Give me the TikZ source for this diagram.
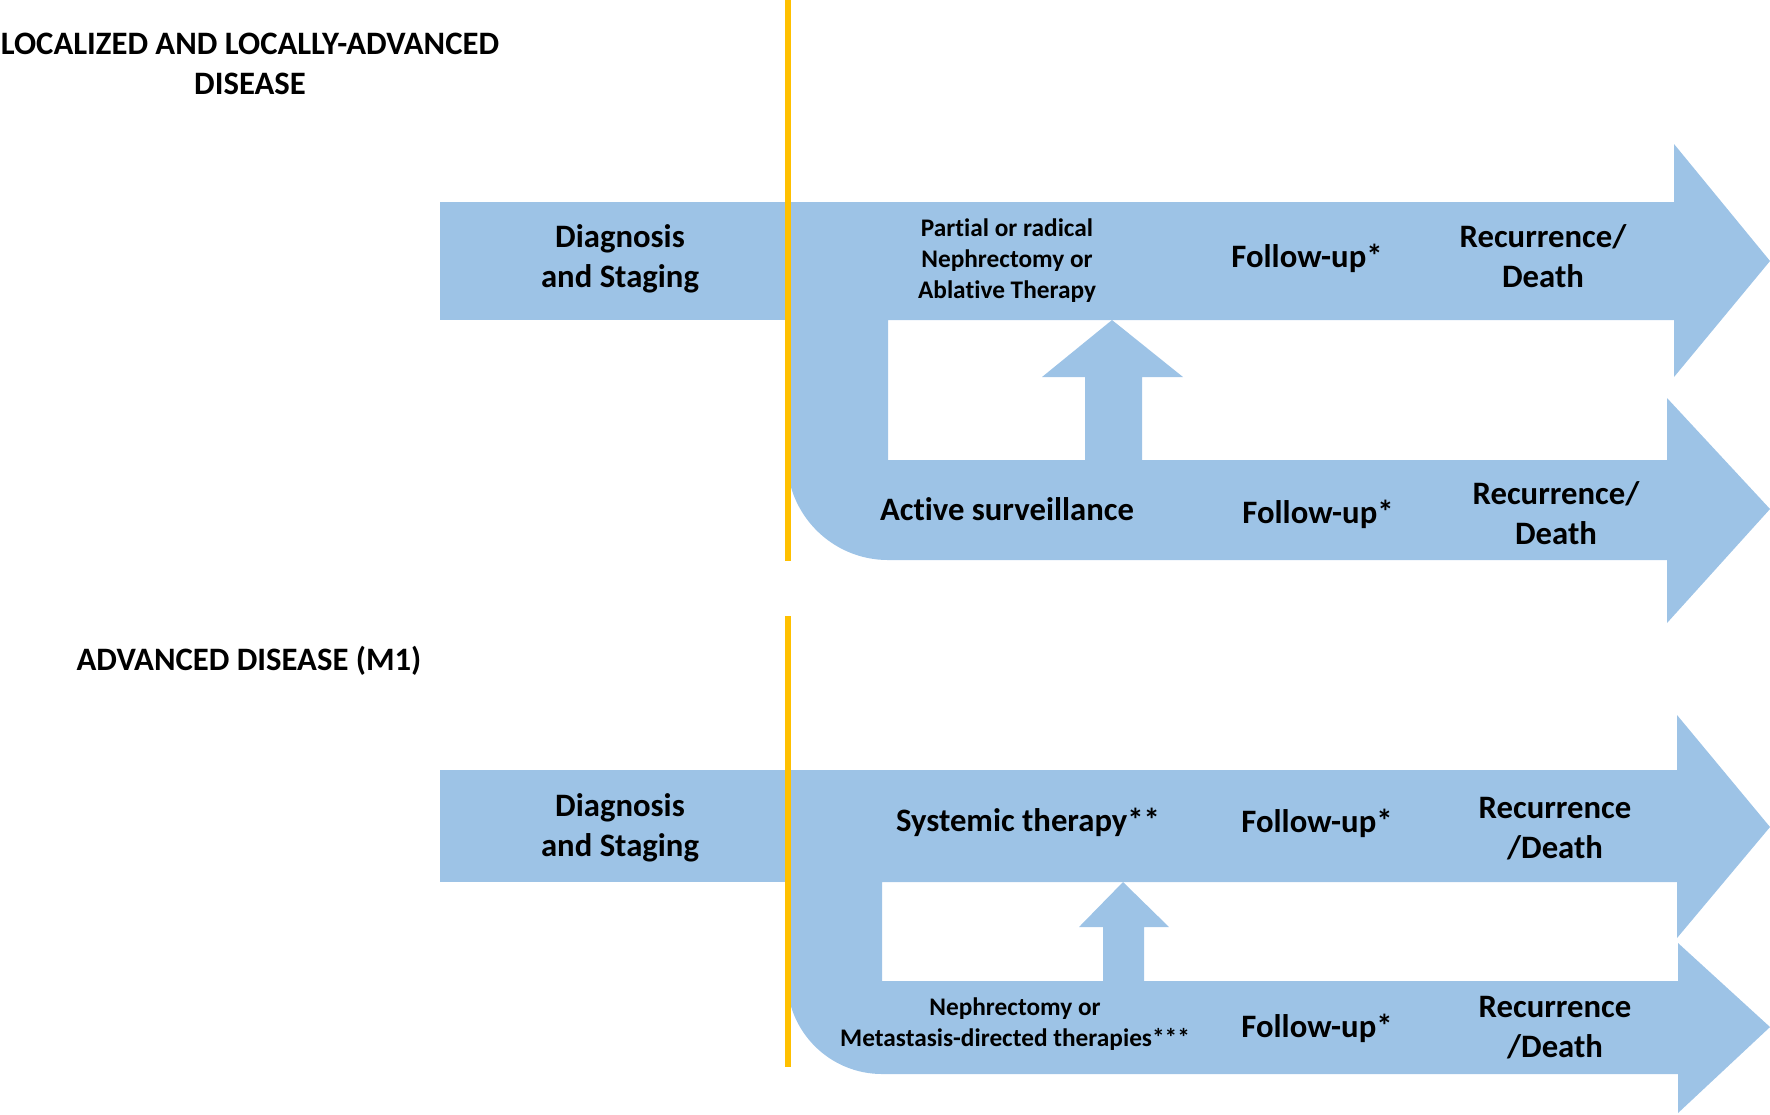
\documentclass[tikz,border=0pt]{standalone}
\usepackage{fontspec}
\setmainfont{Carlito}[Ligatures=NoCommon]
\usepackage{tikz}
\definecolor{bandblue}{RGB}{157,195,230}
\definecolor{splitamber}{RGB}{255,192,0}

\begin{document}
\begin{tikzpicture}[x=0.01cm,y=-0.01cm,
  lbl/.style={align=center,inner sep=0pt,font=\bfseries\fontsize{9.3}{11.4}\selectfont},
  sml/.style={align=center,inner sep=0pt,font=\bfseries\fontsize{7.2}{8.8}\selectfont}]
\useasboundingbox (0,0) rectangle (1770,1114);
\fill[bandblue] (440,202) rectangle (787,320);
\fill[bandblue] (787,202) -- (1674,202) -- (1674,144) -- (1770,261) -- (1674,377) -- (1674,320) -- (888,320) -- (888,460) -- (1667,460) -- (1667,398) -- (1770,509) -- (1667,623) -- (1667,560) -- (888,560) arc (90:180:101) -- cycle;
\fill[bandblue] (1085,461) -- (1085,377) -- (1042,377) -- (1112,320) -- (1183,377) -- (1142,377) -- (1142,461) -- cycle;
\draw[splitamber,line width=1.7pt] (788,0) -- (788,561);
\fill[bandblue] (440,770) rectangle (787,882);
\fill[bandblue] (787,770) -- (1677,770) -- (1677,715) -- (1770,827) -- (1677,938) -- (1677,882) -- (882,882) -- (882,981) -- (1678,981) -- (1678,943) -- (1770,1027) -- (1678,1113) -- (1678,1074) -- (882,1074) arc (90:180:95) -- cycle;
\fill[bandblue] (1103,982) -- (1103,927) -- (1079,927) -- (1123,882) -- (1169,927) -- (1144,927) -- (1144,982) -- cycle;
\draw[splitamber,line width=1.7pt] (788,616) -- (788,1067);
\node[lbl] (titleA) at (250,64) {LOCALIZED AND LOCALLY-ADVANCED\\DISEASE};
\node[lbl] (diagA) at (620,259) {Diagnosis\\and Staging};
\node[sml] (treatA) at (1007,261) {Partial or radical\\Nephrectomy or\\Ablative Therapy};
\node[lbl] (fupA) at (1307,258) {Follow-up*}; \node[lbl] (endA) at (1543,256) {Recurrence/\\Death};
\node[lbl] (survB) at (1007,509) {Active surveillance};
\node[lbl] (fupB) at (1318,514) {Follow-up*}; \node[lbl] (endB) at (1556,513) {Recurrence/\\Death};
\node[lbl] (titleC) at (249,661) {ADVANCED DISEASE (M1)};
\node[lbl] (diagC) at (620,828) {Diagnosis\\and Staging};
\node[lbl] (sysC) at (1028,822) {Systemic therapy**};
\node[lbl] (fupC) at (1317,823) {Follow-up*}; \node[lbl] (endC) at (1555,829) {Recurrence\\/Death};
\node[sml] (metaD) at (1015,1024) {Nephrectomy or\\Metastasis-directed therapies***};
\node[lbl] (fupD) at (1317,1028) {Follow-up*}; \node[lbl] (endD) at (1555,1028) {Recurrence\\/Death};
\end{tikzpicture}
\end{document}
